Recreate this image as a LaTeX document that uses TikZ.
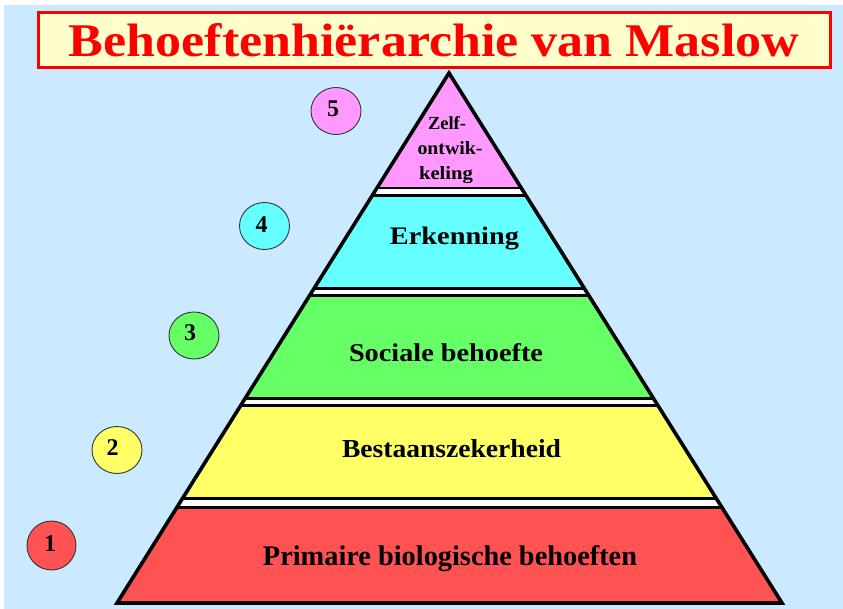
\documentclass[tikz,border=0pt]{standalone}
\usepackage{fontspec}
\setmainfont{Liberation Serif}
\usepackage{graphicx}
\usetikzlibrary{shapes.geometric}
\definecolor{bg}{RGB}{204,234,255}
\definecolor{titlefill}{RGB}{255,255,204}
\definecolor{lvpink}{RGB}{255,153,255}
\definecolor{lvcyan}{RGB}{102,255,255}
\definecolor{lvgreen}{RGB}{102,255,102}
\definecolor{lvyellow}{RGB}{255,255,102}
\definecolor{lvred}{RGB}{255,82,82}
\newcommand\fitlbl[3]{\resizebox{#1pt}{#2pt}{\bfseries #3}}
\tikzset{
  band/.style={draw=black, line width=2.6pt},
  lbl/.style={anchor=base, inner sep=0pt},
  numcirc/.style={ellipse, draw=black!80, line width=0.9pt, minimum width=50pt, minimum height=47pt, inner sep=0pt},
  numtxt/.style={inner sep=0pt, font=\fontsize{24pt}{26pt}\selectfont\bfseries},
  titlebox/.style={draw=red, line width=3pt, fill=titlefill, minimum width=792pt, minimum height=55pt, inner sep=0pt, text=red}
}
\begin{document}
\begin{tikzpicture}[x=1pt,y=-1pt]
\useasboundingbox (0,0) rectangle (843,609);
\fill[bg] (4,5) rectangle (843,609);
% title
\node[titlebox] (title) at (434,40) {\resizebox{730pt}{33pt}{\bfseries Behoeftenhi\"erarchie van Maslow}};
% pyramid
\coordinate (apex) at (449,73);
\coordinate (bl) at (117,603);
\coordinate (br) at (782,603);
\begin{scope}
  \clip (apex) -- (bl) -- (br) -- cycle;
  \fill[white] (0,60) rectangle (843,609);
  \draw[band, fill=lvpink] (0,50) rectangle (843,188.2);
  \draw[band, fill=lvcyan] (0,195.3) rectangle (843,288.5);
  \draw[band, fill=lvgreen] (0,295.6) rectangle (843,398.2);
  \draw[band, fill=lvyellow] (0,405.5) rectangle (843,498.6);
  \draw[band, fill=lvred] (0,507.6) rectangle (843,620);
\end{scope}
\draw[line width=3.6pt, line join=miter] (apex) -- (bl) -- (br) -- cycle;
% labels
\node[lbl] (l5a) at (447,130) {\fitlbl{38}{13}{Zelf-}};
\node[lbl] (l5b) at (450,155) {\fitlbl{65}{13}{ontwik-}};
\node[lbl] (l5c) at (446,180) {\fitlbl{54}{13}{keling}};
\node[lbl] (l4) at (454.5,245) {\fitlbl{129}{17.5}{Erkenning}};
\node[lbl] (l3) at (446,362) {\fitlbl{194}{18}{Sociale behoefte}};
\node[lbl] (l2) at (451.5,457) {\fitlbl{219}{18}{Bestaanszekerheid}};
\node[lbl] (l1) at (450,565) {\fitlbl{374}{20}{Primaire biologische behoeften}};
% numbered circles
\node[numcirc, fill=lvpink] (c5) at (336,111) {};
\node[numcirc, fill=lvcyan] (c4) at (264.5,226) {};
\node[numcirc, fill=lvgreen] (c3) at (194,335.5) {};
\node[numcirc, fill=lvyellow] (c2) at (117,450) {};
\node[numcirc, fill=lvred, minimum width=49pt, minimum height=49pt] (c1) at (51.5,545.5) {};
\node[numtxt] (n5) at (333,108.5) {5};
\node[numtxt] (n4) at (261.5,225) {4};
\node[numtxt] (n3) at (190,332.5) {3};
\node[numtxt] (n2) at (112.5,447.5) {2};
\node[numtxt] (n1) at (50,543.5) {1};
\end{tikzpicture}
\end{document}
